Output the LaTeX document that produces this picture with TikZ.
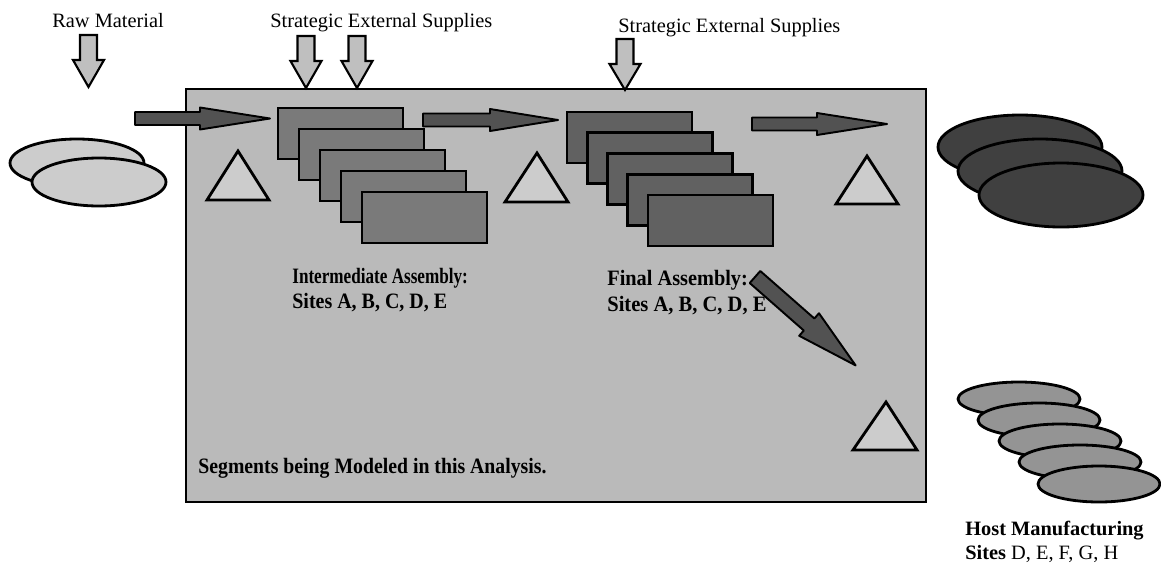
\documentclass[tikz,border=0pt]{standalone}
\usepackage{fontspec}
\setmainfont{Liberation Serif}
\newcommand{\blockarrow}[8]{%
  \path[#1, shift={(#2,#3)}, rotate=#4] (0,#6) -- ({#5-#8},#6) -- ({#5-#8},#7) -- (#5,0) -- ({#5-#8},-#7) -- ({#5-#8},-#6) -- (0,-#6) -- cycle;}
\tikzset{
  outl/.style={draw=black, line width=1.6pt},
  boxfill/.style={outl, fill=black!27},
  tri/.style={outl, fill=black!20, line join=miter},
  downarr/.style={draw=black, line width=1.2pt, fill=black!25, line join=miter},
  flowarr/.style={draw=black, line width=1.1pt, fill=black!68, line join=round},
  rectA/.style={outl, fill=black!52},
  rectB/.style={outl, fill=black!62},
  lightell/.style={outl, fill=black!20},
  darkell/.style={outl, fill=black!75},
  hostell/.style={outl, fill=black!42},
  lbl/.style={inner sep=0pt, anchor=base west},
  big/.style={font=\fontsize{11.6}{13}\selectfont},
  mid/.style={font=\fontsize{12.5}{14}\selectfont\bfseries},
}
\begin{document}
\begin{tikzpicture}[x=0.02cm, y=0.02cm]
\useasboundingbox (0,0) rectangle (1161,-562);
% main box
\draw[boxfill] (186,-89) rectangle (926,-502);
% texts outside
\node[lbl, big] (raw) at (52,-27) {Raw Material};
\node[lbl, big] (ses1) at (270,-27) {Strategic External Supplies};
\node[lbl, big] (ses2) at (618,-32) {Strategic External Supplies};
% down arrows
\blockarrow{downarr}{88.5}{-35}{-90}{52}{8.5}{15.5}{27}
\blockarrow{downarr}{306}{-36}{-90}{52}{8.5}{15.5}{27}
\blockarrow{downarr}{357}{-36}{-90}{52}{8.5}{15.5}{27}
\blockarrow{downarr}{625}{-39}{-90}{51}{8.5}{15.5}{26}
% left ellipses
\draw[lightell] (77,-163) ellipse [x radius=67, y radius=24];
\draw[lightell] (99,-182) ellipse [x radius=67, y radius=24];
% flow arrows
\blockarrow{flowarr}{135}{-118.5}{0}{135}{6.5}{11}{70}
\blockarrow{flowarr}{423}{-120}{0}{135}{6.5}{11}{68}
\blockarrow{flowarr}{752}{-124}{0}{135}{6.5}{11}{70}
% intermediate rectangles
\foreach \i in {0,...,4}
  \draw[rectA] ({278+21*\i},{-108-21*\i}) rectangle ++(125,-51);
% final rectangles
\foreach \i in {0,...,4}
  \draw[rectB] ({567+20.25*\i},{-112-20.75*\i}) rectangle ++(125,-51);
% triangles
\draw[tri] (238,-151) -- (269,-200) -- (207,-200) -- cycle;
\draw[tri] (537,-153) -- (568,-202) -- (505,-202) -- cycle;
\draw[tri] (867,-156) -- (898,-204) -- (836,-204) -- cycle;
\draw[tri] (886,-402) -- (917,-450) -- (853,-450) -- cycle;
% diagonal arrow
\blockarrow{flowarr}{755}{-277}{-41.3}{134}{8}{15}{62}
% right dark ellipses
\draw[darkell] (1020,-147) ellipse [x radius=82, y radius=32];
\draw[darkell] (1040,-171) ellipse [x radius=82, y radius=32];
\draw[darkell] (1061,-195) ellipse [x radius=82, y radius=32];
% host ellipses
\draw[hostell] (1019,-399) ellipse [x radius=61, y radius=17];
\draw[hostell] (1039,-420) ellipse [x radius=61, y radius=17];
\draw[hostell] (1060,-441) ellipse [x radius=61, y radius=17];
\draw[hostell] (1080,-462) ellipse [x radius=61, y radius=17];
\draw[hostell] (1099,-484) ellipse [x radius=61, y radius=18];
% labels inside
\node[lbl, mid] (ia1) at (292,-283) {\scalebox{0.78}[1]{Intermediate Assembly:}};
\node[lbl, mid] (ia2) at (292,-308) {\scalebox{0.91}[1]{Sites A, B, C, D, E}};
\node[lbl, mid] (fa1) at (607,-285) {\scalebox{0.925}[1]{Final Assembly:}};
\node[lbl, mid] (fa2) at (607,-311) {\scalebox{0.935}[1]{Sites A, B, C, D, E}};
\node[lbl, mid] (seg) at (198,-473) {\scalebox{0.9}[1]{Segments being Modeled in this Analysis.}};
\node[lbl, big] (host1) at (965,-535) {\textbf{Host Manufacturing}};
\node[lbl, big] (host2) at (965,-559) {\textbf{Sites} D, E, F, G, H};
\end{tikzpicture}
\end{document}
